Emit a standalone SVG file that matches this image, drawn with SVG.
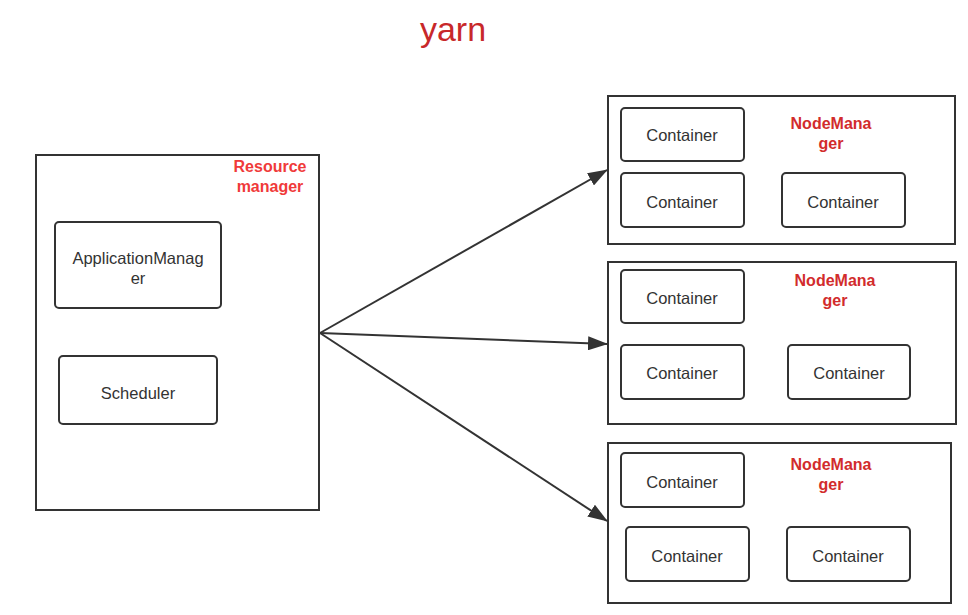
<svg xmlns="http://www.w3.org/2000/svg" width="968" height="615" viewBox="0 0 968 615">
<defs>
<marker id="ah" viewBox="0 0 20 14" refX="19" refY="7" markerWidth="20" markerHeight="14" markerUnits="userSpaceOnUse" orient="auto">
<path d="M0,0 L20,7 L0,14 Z" fill="#333"/>
</marker>
</defs>
<style>
.frame{fill:#fff;stroke:#333;stroke-width:2}
.box{fill:#fff;stroke:#333;stroke-width:2}
.t{font-family:"Liberation Sans",Arial,sans-serif;font-size:16.5px;fill:#333;text-anchor:middle}
.nm{font-family:"Liberation Sans",Arial,sans-serif;font-size:16px;font-weight:bold;fill:#d22c2c;text-anchor:middle}
.rm{font-family:"Liberation Sans",Arial,sans-serif;font-size:16px;font-weight:bold;fill:#f03a3a;text-anchor:middle}
.conn{stroke:#333;stroke-width:2;fill:none}
</style>
<rect width="968" height="615" fill="#fff"/>
<text x="453" y="41" font-family="Liberation Sans,Arial,sans-serif" font-size="34" fill="#c8282a" text-anchor="middle">yarn</text>

<g id="resource-manager">
<rect class="frame" x="36" y="155" width="283" height="355"/>
<text class="rm" x="270" y="172">Resource</text>
<text class="rm" x="270" y="192">manager</text>
</g>
<g id="application-manager">
<rect class="box" x="55" y="222" width="166" height="86" rx="4"/>
<text class="t" x="138" y="264">ApplicationManag</text>
<text class="t" x="138" y="284">er</text>
</g>
<g id="scheduler">
<rect class="box" x="59" y="356" width="158" height="68" rx="4"/>
<text class="t" x="138" y="399">Scheduler</text>
</g>

<g id="connectors">
<line class="conn" x1="320" y1="333" x2="607" y2="170" marker-end="url(#ah)"/>
<line class="conn" x1="320" y1="333" x2="607" y2="344" marker-end="url(#ah)"/>
<line class="conn" x1="320" y1="333" x2="607" y2="521" marker-end="url(#ah)"/>
</g>

<g id="nodemanager-1">
<rect class="frame" x="608" y="96" width="347" height="148"/>
<text class="nm" x="831" y="129">NodeMana</text>
<text class="nm" x="831" y="149">ger</text>
</g>
<g id="nm1-container-1"><rect class="box" x="621" y="108" width="123" height="53" rx="4"/><text class="t" x="682" y="141">Container</text></g>
<g id="nm1-container-2"><rect class="box" x="621" y="173" width="123" height="54" rx="4"/><text class="t" x="682" y="208">Container</text></g>
<g id="nm1-container-3"><rect class="box" x="782" y="173" width="123" height="54" rx="4"/><text class="t" x="843" y="208">Container</text></g>

<g id="nodemanager-2">
<rect class="frame" x="608" y="262" width="348" height="162"/>
<text class="nm" x="835" y="286">NodeMana</text>
<text class="nm" x="835" y="306">ger</text>
</g>
<g id="nm2-container-1"><rect class="box" x="621" y="270" width="123" height="53" rx="4"/><text class="t" x="682" y="304">Container</text></g>
<g id="nm2-container-2"><rect class="box" x="621" y="345" width="123" height="54" rx="4"/><text class="t" x="682" y="379">Container</text></g>
<g id="nm2-container-3"><rect class="box" x="788" y="345" width="122" height="54" rx="4"/><text class="t" x="849" y="379">Container</text></g>

<g id="nodemanager-3">
<rect class="frame" x="608" y="443" width="343" height="160"/>
<text class="nm" x="831" y="470">NodeMana</text>
<text class="nm" x="831" y="490">ger</text>
</g>
<g id="nm3-container-1"><rect class="box" x="621" y="453" width="123" height="54" rx="4"/><text class="t" x="682" y="488">Container</text></g>
<g id="nm3-container-2"><rect class="box" x="626" y="527" width="123" height="54" rx="4"/><text class="t" x="687" y="562">Container</text></g>
<g id="nm3-container-3"><rect class="box" x="787" y="527" width="123" height="54" rx="4"/><text class="t" x="848" y="562">Container</text></g>
</svg>
